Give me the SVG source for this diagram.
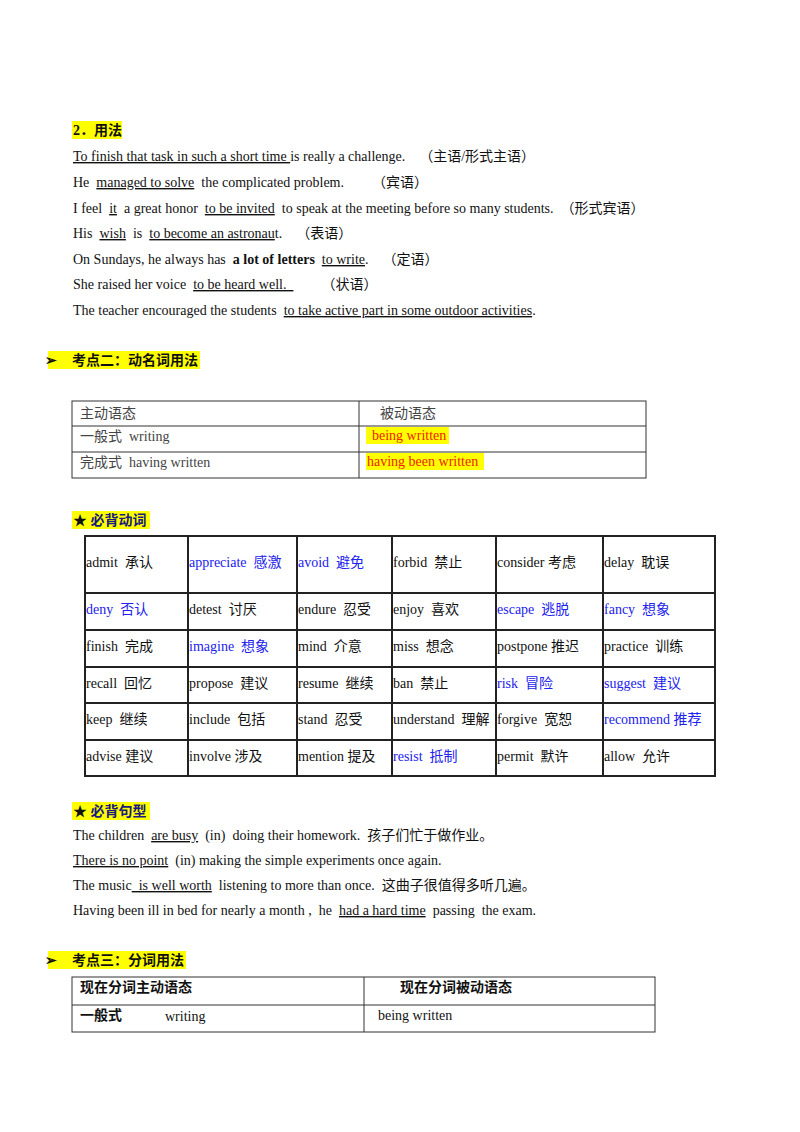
<svg xmlns="http://www.w3.org/2000/svg" width="800" height="1132" viewBox="0 0 800 1132" xml:space="preserve">
<style>
text{font-family:"Liberation Serif","Noto Sans CJK SC",serif;font-size:14px;fill:#111;white-space:pre}
.h{font-family:"Liberation Serif","Noto Sans CJK SC",sans-serif;font-weight:bold;font-size:14px}
.hl{fill:#ffff00}
.b{fill:#2222ee}
.r{fill:#ee2200}
.g{fill:#444}
.u{text-decoration:underline}
.t{fill:none;stroke:#333;stroke-width:1}
.tt{fill:none;stroke:#222;stroke-width:2}
</style>
<rect width="800" height="1132" fill="#fff"/>
<g id="sec-usage">
<rect class="hl" x="72" y="121" width="50" height="18"/>
<text class="h" x="73" y="135">2．用法</text>
<text x="73" y="161"><tspan class="u">To finish that task in such a short time </tspan>is really a challenge.    （主语/形式主语）</text>
<text x="73" y="187">He  <tspan class="u">managed to solve</tspan>  the complicated problem.        （宾语）</text>
<text x="73" y="213">I feel  <tspan class="u">it</tspan>  a great honor  <tspan class="u">to be invited</tspan>  to speak at the meeting before so many students.  （形式宾语）</text>
<text x="73" y="238">His  <tspan class="u">wish</tspan>  is  <tspan class="u">to become an astronau</tspan>t.    （表语）</text>
<text x="73" y="264">On Sundays, he always has  <tspan font-weight="bold">a lot of letters</tspan>  <tspan class="u">to write</tspan>.    （定语）</text>
<text x="73" y="289">She raised her voice  <tspan class="u">to be heard well.  </tspan>        （状语）</text>
<text x="73" y="315">The teacher encouraged the students  <tspan class="u">to take active part in some outdoor activities</tspan>.</text>
</g>
<g id="sec-gerund">
<rect class="hl" x="48" y="351" width="152" height="18"/>
<text class="h" x="45" y="365">➢</text>
<text class="h" x="72" y="365">考点二：动名词用法</text>
</g>
<g id="table1">
<rect class="t" x="72" y="401" width="574" height="77"/>
<line class="t" x1="359" y1="401" x2="359" y2="478"/>
<line class="t" x1="72" y1="426" x2="646" y2="426"/>
<line class="t" x1="72" y1="452" x2="646" y2="452"/>
<text class="g" x="80" y="418">主动语态</text>
<text class="g" x="380" y="418">被动语态</text>
<text class="g" x="80" y="441">一般式  writing</text>
<text class="g" x="80" y="467">完成式  having written</text>
<rect class="hl" x="366" y="427" width="83" height="17"/>
<text class="r" x="372" y="440">being written</text>
<rect class="hl" x="366" y="453" width="118" height="17"/>
<text class="r" x="367" y="466">having been written</text>
</g>
<g id="sec-verbs">
<rect class="hl" x="72" y="511" width="78" height="18"/>
<text class="h" x="73" y="525">★ <tspan style="fill:#1a1a80">必背动词</tspan></text>
</g>
<g id="table2">
<rect class="tt" x="85" y="536" width="630" height="240"/>
<g class="tt">
<line x1="188" y1="536" x2="188" y2="776"/><line x1="297" y1="536" x2="297" y2="776"/>
<line x1="392" y1="536" x2="392" y2="776"/><line x1="496" y1="536" x2="496" y2="776"/>
<line x1="603" y1="536" x2="603" y2="776"/>
<line x1="85" y1="593" x2="715" y2="593"/><line x1="85" y1="630" x2="715" y2="630"/>
<line x1="85" y1="667" x2="715" y2="667"/><line x1="85" y1="703" x2="715" y2="703"/>
<line x1="85" y1="740" x2="715" y2="740"/>
</g>
<text x="86" y="567">admit  承认</text><text class="b" x="189" y="567">appreciate  感激</text><text class="b" x="298" y="567">avoid  避免</text><text x="393" y="567">forbid  禁止</text><text x="497" y="567">consider 考虑</text><text x="604" y="567">delay  耽误</text>
<text class="b" x="86" y="614">deny  否认</text><text x="189" y="614">detest  讨厌</text><text x="298" y="614">endure  忍受</text><text x="393" y="614">enjoy  喜欢</text><text class="b" x="497" y="614">escape  逃脱</text><text class="b" x="604" y="614">fancy  想象</text>
<text x="86" y="651">finish  完成</text><text class="b" x="189" y="651">imagine  想象</text><text x="298" y="651">mind  介意</text><text x="393" y="651">miss  想念</text><text x="497" y="651">postpone 推迟</text><text x="604" y="651">practice  训练</text>
<text x="86" y="688">recall  回忆</text><text x="189" y="688">propose  建议</text><text x="298" y="688">resume  继续</text><text x="393" y="688">ban  禁止</text><text class="b" x="497" y="688">risk  冒险</text><text class="b" x="604" y="688">suggest  建议</text>
<text x="86" y="724">keep  继续</text><text x="189" y="724">include  包括</text><text x="298" y="724">stand  忍受</text><text x="393" y="724">understand  理解</text><text x="497" y="724">forgive  宽恕</text><text class="b" x="604" y="724">recommend 推荐</text>
<text x="86" y="761">advise 建议</text><text x="189" y="761">involve 涉及</text><text x="298" y="761">mention 提及</text><text class="b" x="393" y="761">resist  抵制</text><text x="497" y="761">permit  默许</text><text x="604" y="761">allow  允许</text>
</g>
<g id="sec-patterns">
<rect class="hl" x="72" y="802" width="78" height="18"/>
<text class="h" x="73" y="816">★ <tspan style="fill:#1a1a80">必背句型</tspan></text>
<text x="73" y="840">The children  <tspan class="u">are busy</tspan>  (in)  doing their homework.  孩子们忙于做作业。</text>
<text x="73" y="865"><tspan class="u">There is no point</tspan>  (in) making the simple experiments once again.</text>
<text x="73" y="890">The music<tspan class="u">  is well worth</tspan>  listening to more than once.  这曲子很值得多听几遍。</text>
<text x="73" y="915">Having been ill in bed for nearly a month ,  he  <tspan class="u">had a hard time</tspan>  passing  the exam.</text>
</g>
<g id="sec-participle">
<rect class="hl" x="48" y="951" width="138" height="18"/>
<text class="h" x="45" y="965">➢</text>
<text class="h" x="72" y="965">考点三：分词用法</text>
</g>
<g id="table3">
<rect class="t" x="72" y="977" width="583" height="55"/>
<line class="t" x1="364" y1="977" x2="364" y2="1032"/>
<line class="t" x1="72" y1="1005" x2="655" y2="1005"/>
<text class="h" x="80" y="992">现在分词主动语态</text>
<text class="h" x="400" y="992">现在分词被动语态</text>
<text class="h" x="80" y="1020">一般式</text>
<text x="165" y="1021">writing</text>
<text x="378" y="1020">being written</text>
</g>
</svg>
